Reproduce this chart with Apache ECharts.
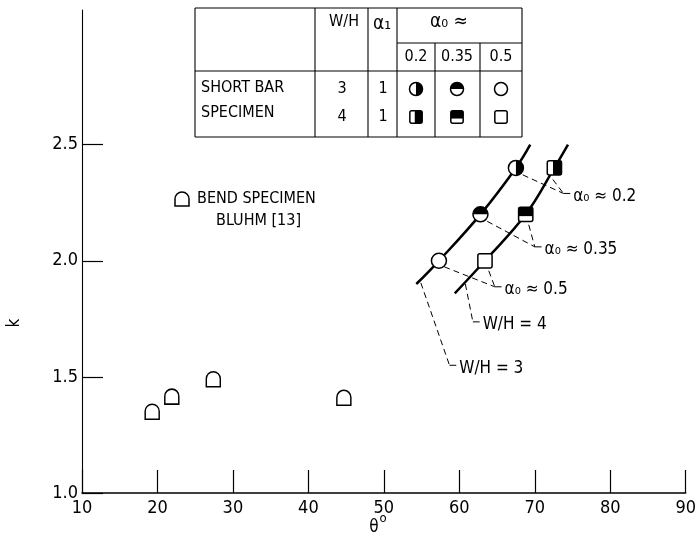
<!DOCTYPE html>
<html>
<head>
<meta charset="utf-8">
<script src="https://cdn.jsdelivr.net/npm/echarts@6/dist/echarts.min.js"></script>
<style>
  html, body { margin: 0; padding: 0; background: #fff; }
  #chart { width: 699px; height: 541px; }
</style>
</head>
<body>
<div id="chart"></div>
<script>
// ---- data ----
// bend specimens (Bluhm [13])
const bendTheta = [19.3, 21.9, 27.4, 44.7];
const bendK = [1.35, 1.415, 1.49, 1.41];

// short bar specimens, alpha0 = 0.5, 0.35, 0.2 (bottom to top)
const alpha0Levels = ['0.5', '0.35', '0.2'];
const sb3Theta = [57.3, 62.8, 67.5];   // W/H = 3
const sb3K = [2.0, 2.2, 2.4];
const sb4Theta = [63.4, 68.8, 72.6];   // W/H = 4
const sb4K = [2.0, 2.2, 2.4];

// fitted curves through the short bar results
const curve3Theta = [54.3, 57.3, 62.8, 67.5, 69.4];
const curve3K = [1.9, 2.0, 2.2, 2.4, 2.5];
const curve4Theta = [59.4, 63.4, 68.8, 72.6, 74.4];
const curve4K = [1.86, 2.0, 2.2, 2.4, 2.5];

// axis ticks
const xTicks = [10, 20, 30, 40, 50, 60, 70, 80, 90];
const yTicks = [1.0, 1.5, 2.0, 2.5];

// callout anchors (data coordinates): leader end point and the points they come from
const callouts = [
  { text: 'α₀ ≈ 0.2',  corner: [73.8, 2.29],  from: [[68.4, 2.37], [72.4, 2.35]] },
  { text: 'α₀ ≈ 0.35', corner: [70.0, 2.06],  from: [[63.7, 2.17], [69.2, 2.155]] },
  { text: 'α₀ ≈ 0.5',  corner: [64.7, 1.888], from: [[58.0, 1.974], [63.9, 1.957]] },
  { text: 'W/H = 4',   corner: [61.8, 1.737], from: [[60.8, 1.90]] },
  { text: 'W/H = 3',   corner: [58.7, 1.55],  from: [[54.9, 1.905]] }
];

// ---- styling ----
const FONT = '"Liberation Sans Narrow", "DejaVu Sans Condensed", "Liberation Sans", sans-serif';
const INK = '#000';

// fill pattern per alpha0 level: 'none' | 'right' | 'top'
const fillFor = { '0.5': 'none', '0.35': 'top', '0.2': 'right' };

// builds the element list for a short bar symbol centred at (cx, cy)
function specimenSymbol(cx, cy, isSquare, fill, r) {
  const els = [];
  const line = { stroke: INK, lineWidth: 1.5, fill: 'none' };
  if (!isSquare) {
    els.push({ type: 'circle', shape: { cx, cy, r }, style: { fill: '#fff' } });
    if (fill === 'right') {
      els.push({ type: 'sector', shape: { cx, cy, r0: 0, r, startAngle: -Math.PI / 2, endAngle: Math.PI / 2, clockwise: true }, style: { fill: INK } });
    } else if (fill === 'top') {
      els.push({ type: 'sector', shape: { cx, cy, r0: 0, r, startAngle: Math.PI, endAngle: 2 * Math.PI, clockwise: true }, style: { fill: INK } });
    }
    els.push({ type: 'circle', shape: { cx, cy, r }, style: line });
  } else {
    const s = r * 0.95;
    els.push({ type: 'rect', shape: { x: cx - s, y: cy - s, width: 2 * s, height: 2 * s, r: 2 }, style: { fill: '#fff' } });
    if (fill === 'right') {
      els.push({ type: 'rect', shape: { x: cx - s + 0.8 * s, y: cy - s, width: 1.2 * s, height: 2 * s }, style: { fill: INK } });
    } else if (fill === 'top') {
      els.push({ type: 'rect', shape: { x: cx - s, y: cy - s, width: 2 * s, height: 1.25 * s }, style: { fill: INK } });
    }
    els.push({ type: 'rect', shape: { x: cx - s, y: cy - s, width: 2 * s, height: 2 * s, r: 2 }, style: line });
  }
  return els;
}

// data for the custom series: [theta, k, isSquare, levelIndex]
const specimenData = [];
sb3Theta.forEach((t, i) => specimenData.push([t, sb3K[i], 0, i]));
sb4Theta.forEach((t, i) => specimenData.push([t, sb4K[i], 1, i]));

const archPath = 'path://M0,15 L0,7 A7,7 0 0 1 14,7 L14,15 Z';

// ---- key table ----
const T = { left: 195, right: 522, top: 8, bottom: 137, c1: 315, c2: 368, c3: 397, c4: 435, c5: 480, hSub: 43, hHead: 71 };
const tableEls = [];
function hline(x1, x2, y) { tableEls.push({ type: 'line', shape: { x1, y1: y, x2, y2: y }, style: { stroke: INK, lineWidth: 1.1 } }); }
function vline(x, y1, y2) { tableEls.push({ type: 'line', shape: { x1: x, y1, x2: x, y2 }, style: { stroke: INK, lineWidth: 1.1 } }); }
function txt(text, x, y, align, size) {
  tableEls.push({ type: 'text', x, y, style: { text, font: (size || 16) + 'px ' + FONT, fill: INK, align: align || 'center', verticalAlign: 'middle' } });
}
hline(T.left, T.right, T.top);
hline(T.left, T.right, T.bottom);
hline(T.left, T.right, T.hHead);
hline(T.c3, T.right, T.hSub);
vline(T.left, T.top, T.bottom);
vline(T.right, T.top, T.bottom);
vline(T.c1, T.top, T.bottom);
vline(T.c2, T.top, T.bottom);
vline(T.c3, T.top, T.bottom);
vline(T.c4, T.hSub, T.bottom);
vline(T.c5, T.hSub, T.bottom);
txt('W/H', 344, 22);
txt('α₁', 382, 24, 'center', 19);
txt('α₀ ≈', 430, 22, 'left', 19);
const colX = { '0.2': 416, '0.35': 457, '0.5': 501 };
['0.2', '0.35', '0.5'].forEach(l => txt(l, colX[l], 57));
txt('SHORT BAR', 201, 88, 'left');
txt('SPECIMEN', 201, 113, 'left');
txt('3', 342, 89); txt('4', 342, 117);
txt('1', 383, 89); txt('1', 383, 117);
['0.2', '0.35', '0.5'].forEach(l => {
  specimenSymbol(colX[l], 89, false, fillFor[l], 6.5).forEach(e => tableEls.push(e));
  specimenSymbol(colX[l], 117, true, fillFor[l], 6.5).forEach(e => tableEls.push(e));
});

// bend specimen key symbol: arch = top half-circle plus sides and base
tableEls.push({ type: 'arc', shape: { cx: 182, cy: 199, r: 7, startAngle: Math.PI, endAngle: 2 * Math.PI, clockwise: true }, style: { fill: 'none', stroke: INK, lineWidth: 1.5 } });
tableEls.push({ type: 'polyline', shape: { points: [[175, 199], [175, 206], [189, 206], [189, 199]] }, style: { fill: 'none', stroke: INK, lineWidth: 1.5 } });
txt('BEND SPECIMEN', 197, 199, 'left');
txt('BLUHM [13]', 216, 221, 'left');

// axis titles
tableEls.push({ type: 'text', x: 15, y: 323, rotation: Math.PI / 2, style: { text: 'k', font: '17px ' + FONT, fill: INK, align: 'center', verticalAlign: 'middle' } });
tableEls.push({ type: 'text', x: 374, y: 528, style: { text: 'θ', font: '17px ' + FONT, fill: INK, align: 'center', verticalAlign: 'middle' } });
tableEls.push({ type: 'text', x: 383, y: 519, style: { text: 'o', font: '13px ' + FONT, fill: INK, align: 'center', verticalAlign: 'middle' } });

// ---- series ----
const series = [];
series.push({
  type: 'line', data: curve3Theta.map((t, i) => [t, curve3K[i]]), smooth: 0.4, symbol: 'none',
  lineStyle: { color: INK, width: 2.5 }, z: 2, silent: true
});
series.push({
  type: 'line', data: curve4Theta.map((t, i) => [t, curve4K[i]]), smooth: 0.4, symbol: 'none',
  lineStyle: { color: INK, width: 2.5 }, z: 2, silent: true
});
callouts.forEach(c => {
  c.from.forEach(p => series.push({
    type: 'line', data: [p, c.corner], symbol: 'none', silent: true, z: 1,
    lineStyle: { color: INK, width: 1, type: [6, 4] }
  }));
  series.push({
    type: 'line', data: [c.corner, [c.corner[0] + 0.9, c.corner[1]]], symbol: 'none', silent: true, z: 1,
    lineStyle: { color: INK, width: 1 }
  });
});
series.push({
  type: 'scatter', silent: true, symbolSize: 0, z: 3,
  itemStyle: { opacity: 1 },
  data: callouts.map(c => ({ value: [c.corner[0] + 0.9, c.corner[1]], name: c.text })),
  label: { show: true, position: 'right', distance: 3, formatter: p => p.name, fontFamily: FONT, fontSize: 17, color: INK, offset: [0, 3] }
});
series.push({
  type: 'scatter', data: bendTheta.map((t, i) => [t, bendK[i]]), symbol: archPath, symbolSize: [14, 15],
  itemStyle: { color: '#fff', borderColor: INK, borderWidth: 1.5, opacity: 1 }, z: 4, silent: true
});
series.push({
  type: 'custom', z: 5, silent: true, data: specimenData,
  renderItem: (params, api) => {
    const p = api.coord([api.value(0), api.value(1)]);
    const level = alpha0Levels[api.value(3)];
    return { type: 'group', children: specimenSymbol(p[0], p[1], api.value(2) === 1, fillFor[level], 7.5) };
  }
});

const chart = echarts.init(document.getElementById('chart'), null, { renderer: 'canvas' });
chart.setOption({
  animation: false,
  backgroundColor: '#fff',
  grid: { left: 82, right: 9, top: 10, bottom: 48 },
  xAxis: {
    type: 'value', min: xTicks[0], max: xTicks[xTicks.length - 1], interval: 10,
    axisLine: { lineStyle: { color: INK, width: 1.5 } },
    axisTick: { inside: true, length: 23, lineStyle: { color: INK, width: 1.2 } },
    axisLabel: { color: INK, fontFamily: FONT, fontSize: 18, margin: 6 },
    splitLine: { show: false }
  },
  yAxis: {
    type: 'value', min: yTicks[0], max: 3.08, interval: 0.5,
    axisLine: { show: true, lineStyle: { color: INK, width: 1.1 } },
    axisTick: { show: true, inside: true, length: 21, customValues: yTicks, lineStyle: { color: INK, width: 1.2 } },
    axisLabel: { color: INK, fontFamily: FONT, fontSize: 18, margin: 4, customValues: yTicks, formatter: v => v.toFixed(1) },
    splitLine: { show: false }
  },
  graphic: tableEls,
  series
});
</script>
</body>
</html>
